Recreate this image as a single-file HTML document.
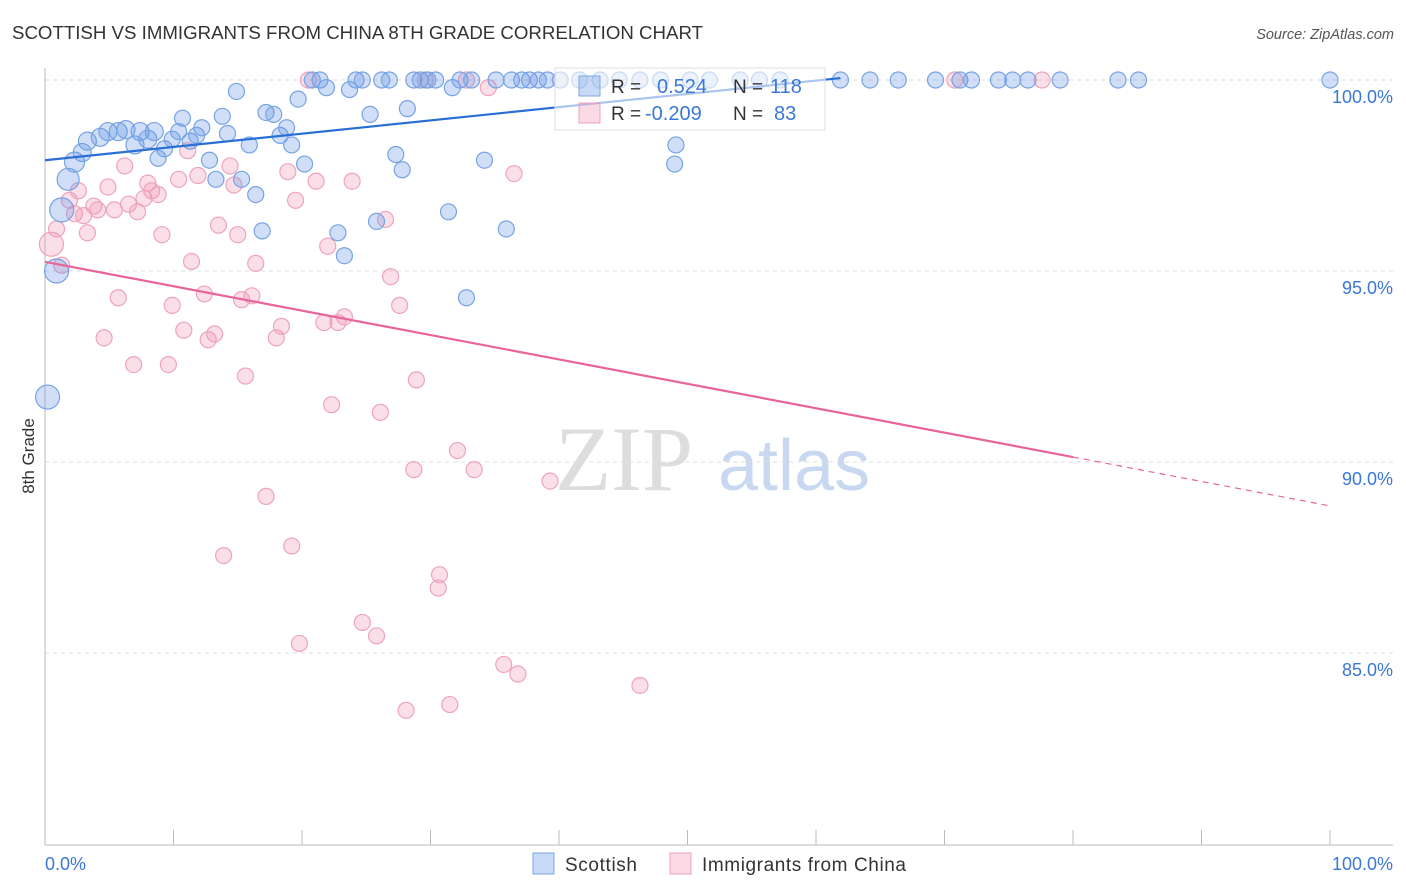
<!DOCTYPE html>
<html><head><meta charset="utf-8"><style>
body{margin:0;background:#fff;font-family:"Liberation Sans",sans-serif}
svg{display:block}
</style></head><body>
<svg id="c" width="1406" height="892" xmlns="http://www.w3.org/2000/svg">
<text x="12" y="39" font-size="18" fill="#333" textLength="691" lengthAdjust="spacingAndGlyphs">SCOTTISH VS IMMIGRANTS FROM CHINA 8TH GRADE CORRELATION CHART</text>
<text x="1394" y="39" font-size="14.5" fill="#555" text-anchor="end" font-style="italic">Source: ZipAtlas.com</text>
<text x="34" y="456" font-size="17" fill="#333" text-anchor="middle" transform="rotate(-90 34 456)">8th Grade</text>
<g><text x="555" y="490" font-size="92" fill="#ddd" font-family="Liberation Serif,serif">ZIP</text><text x="718" y="490" font-size="72" fill="#c8d8f0">atlas</text></g>
<g id="grid"></g>
<g id="axes"></g>
<g id="pts"></g>
<g id="trend"></g>
<g>
<rect x="555" y="68" width="270" height="62" fill="rgba(255,255,255,0.6)" stroke="#ddd"/>
<rect x="579" y="76" width="21" height="20" fill="rgba(100,150,230,0.35)" stroke="#7aa6e6"/>
<rect x="579" y="103" width="21" height="20" fill="rgba(240,150,180,0.35)" stroke="#f0a0bb"/>
<text x="611" y="93" font-size="19" fill="#333">R =</text><text x="657" y="93" font-size="20" fill="#3a78d6">0.524</text>
<text x="733" y="93" font-size="19" fill="#333">N =</text><text x="770" y="93" font-size="20" fill="#3a78d6">118</text>
<text x="611" y="120" font-size="19" fill="#333">R =</text><text x="645" y="120" font-size="20" fill="#3a78d6">-0.209</text>
<text x="733" y="120" font-size="19" fill="#333">N =</text><text x="774" y="120" font-size="20" fill="#3a78d6">83</text>
</g>
<g>
<rect x="533" y="853" width="21" height="21" fill="rgba(100,150,230,0.35)" stroke="#7aa6e6"/>
<text x="565" y="871" font-size="19" fill="#333" textLength="72">Scottish</text>
<rect x="670" y="853" width="21" height="21" fill="rgba(240,150,180,0.35)" stroke="#f0a0bb"/>
<text x="702" y="871" font-size="19" fill="#333" textLength="204">Immigrants from China</text>
</g>
</svg>
<script>
const yTicks=[100,95,90,85];
const yTickLabels=["100.0%","95.0%","90.0%","85.0%"];
const xTicks=[0,10,20,30,40,50,60,70,80,90,100];
const blueX=[0.2,0.9,1.3,1.8,2.3,2.9,3.3,4.3,4.9,5.7,6.3,7.0,7.4,8.0,8.5,8.8,9.3,9.9,10.4,10.7,11.3,11.8,12.2,12.8,13.3,13.8,14.2,14.9,15.3,15.9,16.4,16.9,17.2,17.8,18.3,18.8,19.2,19.7,20.2,20.8,21.4,21.9,22.8,23.3,23.7,24.2,24.7,25.3,25.8,26.2,26.8,27.3,27.8,28.2,28.7,29.2,29.8,30.4,31.4,31.7,32.3,32.8,33.2,34.2,35.1,35.9,36.3,37.1,37.7,38.4,39.1,40.1,41.6,43.2,44.7,46.3,47.9,49.1,49.0,50.2,51.7,54.1,55.6,57.2,61.9,64.2,66.4,69.3,71.2,72.1,74.2,75.3,76.5,79.0,83.5,85.1,100];
const blueY=[91.7,95.0,96.6,97.4,97.85,98.1,98.4,98.5,98.65,98.65,98.7,98.3,98.65,98.45,98.65,97.95,98.2,98.45,98.65,99.0,98.4,98.55,98.75,97.9,97.4,99.05,98.6,99.7,97.4,98.3,97.0,96.05,99.15,99.1,98.55,98.75,98.3,99.5,97.8,100,100,99.8,96.0,95.4,99.75,100,100,99.1,96.3,100,100,98.05,97.65,99.25,100,100,100,100,96.55,99.8,100,94.3,100,97.9,100,96.1,100,100,100,100,100,100,100,100,100,100,100,98.3,97.8,100,100,100,100,100,100,100,100,100,100,100,100,100,100,100,100,100,100];
const blueR=[12,12,12,11,10,9,9,9,9,9,9,9,9,9,9,8,8,8,8,8,8,8,8,8,8,8,8,8,8,8,8,8,8,8,8,8,8,8,8,8,8,8,8,8,8,8,8,8,8,8,8,8,8,8,8,8,8,8,8,8,8,8,8,8,8,8,8,8,8,8,8,8,8,8,8,8,8,8,8,8,8,8,8,8,8,8,8,8,8,8,8,8,8,8,8,8,8];
const pinkX=[0.5,0.9,1.3,1.9,2.3,2.6,3.0,3.3,3.8,4.1,4.6,4.9,5.4,5.7,6.2,6.5,6.9,7.2,7.7,8.0,8.3,8.8,9.1,9.6,9.9,10.4,10.8,11.1,11.4,11.9,12.4,12.7,13.2,13.5,13.9,14.4,14.7,15.0,15.3,15.6,16.1,16.4,17.2,18.0,18.4,18.9,19.2,19.5,19.8,20.5,21.1,21.7,22.0,22.3,22.8,23.3,23.9,24.7,25.8,26.1,26.5,26.9,27.6,28.1,28.7,28.9,29.6,30.6,30.7,31.5,32.1,32.8,33.4,34.5,35.7,36.5,36.8,39.3,46.3,70.8,77.6];
const pinkY=[95.7,96.1,95.15,96.85,96.5,97.1,96.45,96.0,96.7,96.6,93.25,97.2,96.6,94.3,97.75,96.75,92.55,96.55,96.9,97.3,97.1,97.0,95.95,92.55,94.1,97.4,93.45,98.15,95.25,97.5,94.4,93.2,93.35,96.2,87.55,97.75,97.25,95.95,94.25,92.25,94.35,95.2,89.1,93.25,93.55,97.6,87.8,96.85,85.25,100,97.35,93.65,95.65,91.5,93.65,93.8,97.35,85.8,85.45,91.3,96.35,94.85,94.1,83.5,89.8,92.15,100,86.7,87.05,83.65,90.3,100,89.8,99.8,84.7,97.55,84.45,89.5,84.15,100,100];
const blueTrendX=[0,61.9];
const blueTrendY=[97.9,100.05];
const pinkTrendX=[0,80,100];
const pinkTrendY=[95.24,90.13,88.85];
const NS="http://www.w3.org/2000/svg";
const X=v=>45+v*12.85, Y=v=>80+(100-v)*38.2;
function mk(t,a,p){const e=document.createElementNS(NS,t);for(const k in a)e.setAttribute(k,a[k]);p.appendChild(e);return e;}
const grid=document.getElementById('grid'),axes=document.getElementById('axes'),pts=document.getElementById('pts'),tr=document.getElementById('trend');
yTicks.forEach((t,i)=>{
 const l=mk('line',{x1:45,x2:1393,y1:Y(t),y2:Y(t),stroke:'#ddd','stroke-dasharray':'4,4'},grid);
 
 
 const tx=mk('text',{x:1393,y:Y(t)+23,'font-size':18,fill:'#3a78d6','text-anchor':'end'},axes);
 tx.textContent=yTickLabels[i];
 
 
});
mk('line',{x1:45,x2:45,y1:68,y2:845,stroke:'#bbb'},axes);
mk('line',{x1:45,x2:1393,y1:845,y2:845,stroke:'#bbb'},axes);
xTicks.forEach(t=>{const l=mk('line',{x1:X(t),x2:X(t),y1:830,y2:845,stroke:'#bbb'},axes);
 
 });
const x0=mk('text',{x:45,y:870,'font-size':18,fill:'#3a78d6'},axes);x0.textContent='0.0%';


const x1=mk('text',{x:1393,y:870,'font-size':18,fill:'#3a78d6','text-anchor':'end'},axes);x1.textContent='100.0%';


pinkX.forEach((v,i)=>{const c=mk('circle',{cx:X(v),cy:Y(pinkY[i]),r:i==0?12:8,fill:'rgba(240,150,180,0.3)',stroke:'#eea3bd','stroke-width':1.2},pts);
 
 });
blueX.forEach((v,i)=>{const c=mk('circle',{cx:X(v),cy:Y(blueY[i]),r:blueR[i]||8,fill:'rgba(100,150,230,0.3)',stroke:'#76a3e4','stroke-width':1.2},pts);
 
 });
const bl=mk('line',{x1:X(blueTrendX[0]),y1:Y(blueTrendY[0]),x2:X(blueTrendX[1]),y2:Y(blueTrendY[1]),stroke:'#2a6fd6','stroke-width':2.2},tr);


const pl=mk('line',{x1:X(pinkTrendX[0]),y1:Y(pinkTrendY[0]),x2:X(pinkTrendX[1]),y2:Y(pinkTrendY[1]),stroke:'#e8649a','stroke-width':2.2},tr);


const pd=mk('line',{x1:X(pinkTrendX[1]),y1:Y(pinkTrendY[1]),x2:X(pinkTrendX[2]),y2:Y(pinkTrendY[2]),stroke:'#e8649a','stroke-width':1.2,'stroke-dasharray':'6,5'},tr);


</script>
</body></html>
